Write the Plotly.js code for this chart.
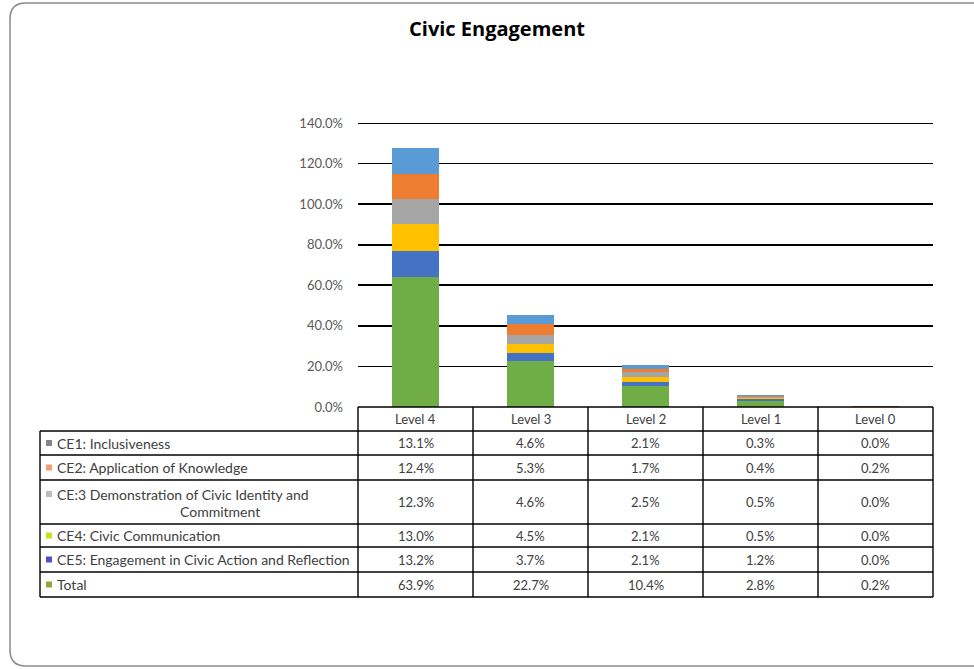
<!DOCTYPE html>
<html>
<head>
<meta charset="utf-8">
<script src="https://cdn.plot.ly/plotly-3.0.1.min.js"></script>
<style>html,body{margin:0;padding:0;background:#fff;}#chart{width:974px;height:669px;}</style>
</head>
<body>
<div id="chart"></div>
<script>
// ---- data ----
const categories = ['Level 4', 'Level 3', 'Level 2', 'Level 1', 'Level 0'];
const seriesNames = [
  'CE1: Inclusiveness',
  'CE2: Application of Knowledge',
  'CE:3 Demonstration of Civic Identity and Commitment',
  'CE4: Civic Communication',
  'CE5: Engagement in Civic Action and Reflection',
  'Total'
];
const ce1 = [13.1, 4.6, 2.1, 0.3, 0.0];
const ce2 = [12.4, 5.3, 1.7, 0.4, 0.2];
const ce3 = [12.3, 4.6, 2.5, 0.5, 0.0];
const ce4 = [13.0, 4.5, 2.1, 0.5, 0.0];
const ce5 = [13.2, 3.7, 2.1, 1.2, 0.0];
const total = [63.9, 22.7, 10.4, 2.8, 0.2];
const yTicks = [0, 20, 40, 60, 80, 100, 120, 140];

// ---- styles ----
const barColors = ['#5B9BD5', '#ED7D31', '#A5A5A5', '#FFC000', '#4472C4', '#70AD47'];
const keyColors = ['#858585', '#F0A070', '#BDBDBD', '#C8E21E', '#5050C8', '#8EA83C'];
const seriesValues = [ce1, ce2, ce3, ce4, ce5, total];
const FONT = 'Lato, "Liberation Sans", sans-serif';
const TXT = '#404040';

const W = 974, H = 669;
const PL = 358, PR = 933, PT = 123, PB = 407;
const X = px => (px - PL) / (PR - PL);
const Y = py => (PB - py) / (PB - PT);

// bars: Total at bottom, CE1 on top
const order = [5, 4, 3, 2, 1, 0];
const traces = order.map(i => ({
  type: 'bar',
  name: seriesNames[i],
  x: categories,
  y: seriesValues[i],
  marker: { color: barColors[i], line: { width: 0 } },
  hoverinfo: 'skip'
}));

// table geometry (pixels)
const tableLeft = 40;
const headerTop = 407, headerBottom = 431;
const rowBounds = [431, 455, 480, 524, 547, 572, 597];

const shapes = [];
const lineStyle = { color: '#000', width: 1.4 };
// top gridline (edge of range)
shapes.push({ type: 'line', xref: 'paper', yref: 'y', x0: 0, x1: 1, y0: yTicks[yTicks.length - 1], y1: yTicks[yTicks.length - 1], line: { color: '#000', width: 1.8 } });
// header top & rows
shapes.push({ type: 'line', xref: 'paper', yref: 'paper', x0: X(PL), x1: X(PR), y0: Y(headerTop), y1: Y(headerTop), line: lineStyle });
rowBounds.forEach(b => shapes.push({ type: 'line', xref: 'paper', yref: 'paper', x0: X(tableLeft), x1: X(PR), y0: Y(b), y1: Y(b), line: lineStyle }));
shapes.push({ type: 'line', xref: 'paper', yref: 'paper', x0: X(tableLeft), x1: X(tableLeft), y0: Y(rowBounds[0]), y1: Y(rowBounds[rowBounds.length - 1]), line: lineStyle });
for (let c = 0; c <= categories.length; c++) {
  const xp = PL + (PR - PL) * c / categories.length;
  shapes.push({ type: 'line', xref: 'paper', yref: 'paper', x0: X(xp), x1: X(xp), y0: Y(headerTop), y1: Y(rowBounds[rowBounds.length - 1]), line: lineStyle });
}
// legend keys
seriesNames.forEach((n, r) => {
  const cy = (rowBounds[r] + rowBounds[r + 1]) / 2 - (r === 2 ? 8 : 0);
  shapes.push({ type: 'rect', xref: 'paper', yref: 'paper', x0: X(46), x1: X(52), y0: Y(cy - 3), y1: Y(cy + 3), fillcolor: keyColors[r], line: { width: 0 } });
});
// outer rounded border
(function () {
  const l = 10, t = 3, r = 990, b = 666, rad = 16;
  const p = `M ${X(l)} ${Y(t + rad)} Q ${X(l)} ${Y(t)} ${X(l + rad)} ${Y(t)} L ${X(r)} ${Y(t)} L ${X(r)} ${Y(b)} L ${X(l + rad)} ${Y(b)} Q ${X(l)} ${Y(b)} ${X(l)} ${Y(b - rad)} Z`;
  shapes.push({ type: 'path', xref: 'paper', yref: 'paper', path: p, line: { color: '#8a8a8a', width: 1.5 }, fillcolor: 'rgba(0,0,0,0)', layer: 'below' });
})();

const annotations = [];
const fmt = v => v.toFixed(1) + '%';
const labelFont = { family: FONT, size: 14, color: TXT };
const valFont = { family: FONT, size: 13, color: TXT };
// header labels
categories.forEach(cat => annotations.push({
  xref: 'x', yref: 'paper', x: cat, y: Y((headerTop + headerBottom) / 2),
  text: cat, showarrow: false, xanchor: 'center', yanchor: 'middle', font: valFont
}));
// rows
seriesNames.forEach((n, r) => {
  const cy = (rowBounds[r] + rowBounds[r + 1]) / 2;
  if (r === 2) {
    annotations.push({ xref: 'paper', yref: 'paper', x: X(55), y: Y(cy - 8), text: 'CE:3 Demonstration of Civic Identity and', showarrow: false, xanchor: 'left', yanchor: 'middle', font: labelFont });
    annotations.push({ xref: 'paper', yref: 'paper', x: X(220), y: Y(cy + 9), text: 'Commitment', showarrow: false, xanchor: 'center', yanchor: 'middle', font: labelFont });
  } else {
    annotations.push({ xref: 'paper', yref: 'paper', x: X(55), y: Y(cy), text: n, showarrow: false, xanchor: 'left', yanchor: 'middle', font: labelFont });
  }
  seriesValues[r].forEach((v, c) => annotations.push({
    xref: 'x', yref: 'paper', x: categories[c], y: Y(cy),
    text: fmt(v), showarrow: false, xanchor: 'center', yanchor: 'middle', font: valFont
  }));
});

const layout = {
  width: W, height: H,
  margin: { l: PL, r: W - PR, t: PT, b: H - PB, pad: 0 },
  paper_bgcolor: '#fff', plot_bgcolor: '#fff',
  barmode: 'stack', bargap: 0.59,
  showlegend: false,
  title: {
    text: '<b>Civic Engagement</b>', x: 497 / W, xanchor: 'center', xref: 'container',
    y: 1 - 29 / H, yanchor: 'middle', yref: 'container',
    font: { family: '"Open Sans", Lato, sans-serif', size: 20, color: '#000' }
  },
  xaxis: { type: 'category', showticklabels: false, showgrid: false, zeroline: false, showline: false, fixedrange: true },
  yaxis: {
    range: [0, 140], tickvals: yTicks, ticktext: yTicks.map(fmt),
    showgrid: true, gridcolor: '#000', gridwidth: 1.8, zeroline: false, showline: false,
    ticks: '', ticklabelstandoff: 14,
    tickfont: { family: FONT, size: 13, color: '#595959' }, fixedrange: true
  },
  shapes: shapes,
  annotations: annotations
};

Plotly.newPlot('chart', traces, layout, { displayModeBar: false, staticPlot: true });
</script>
</body>
</html>
